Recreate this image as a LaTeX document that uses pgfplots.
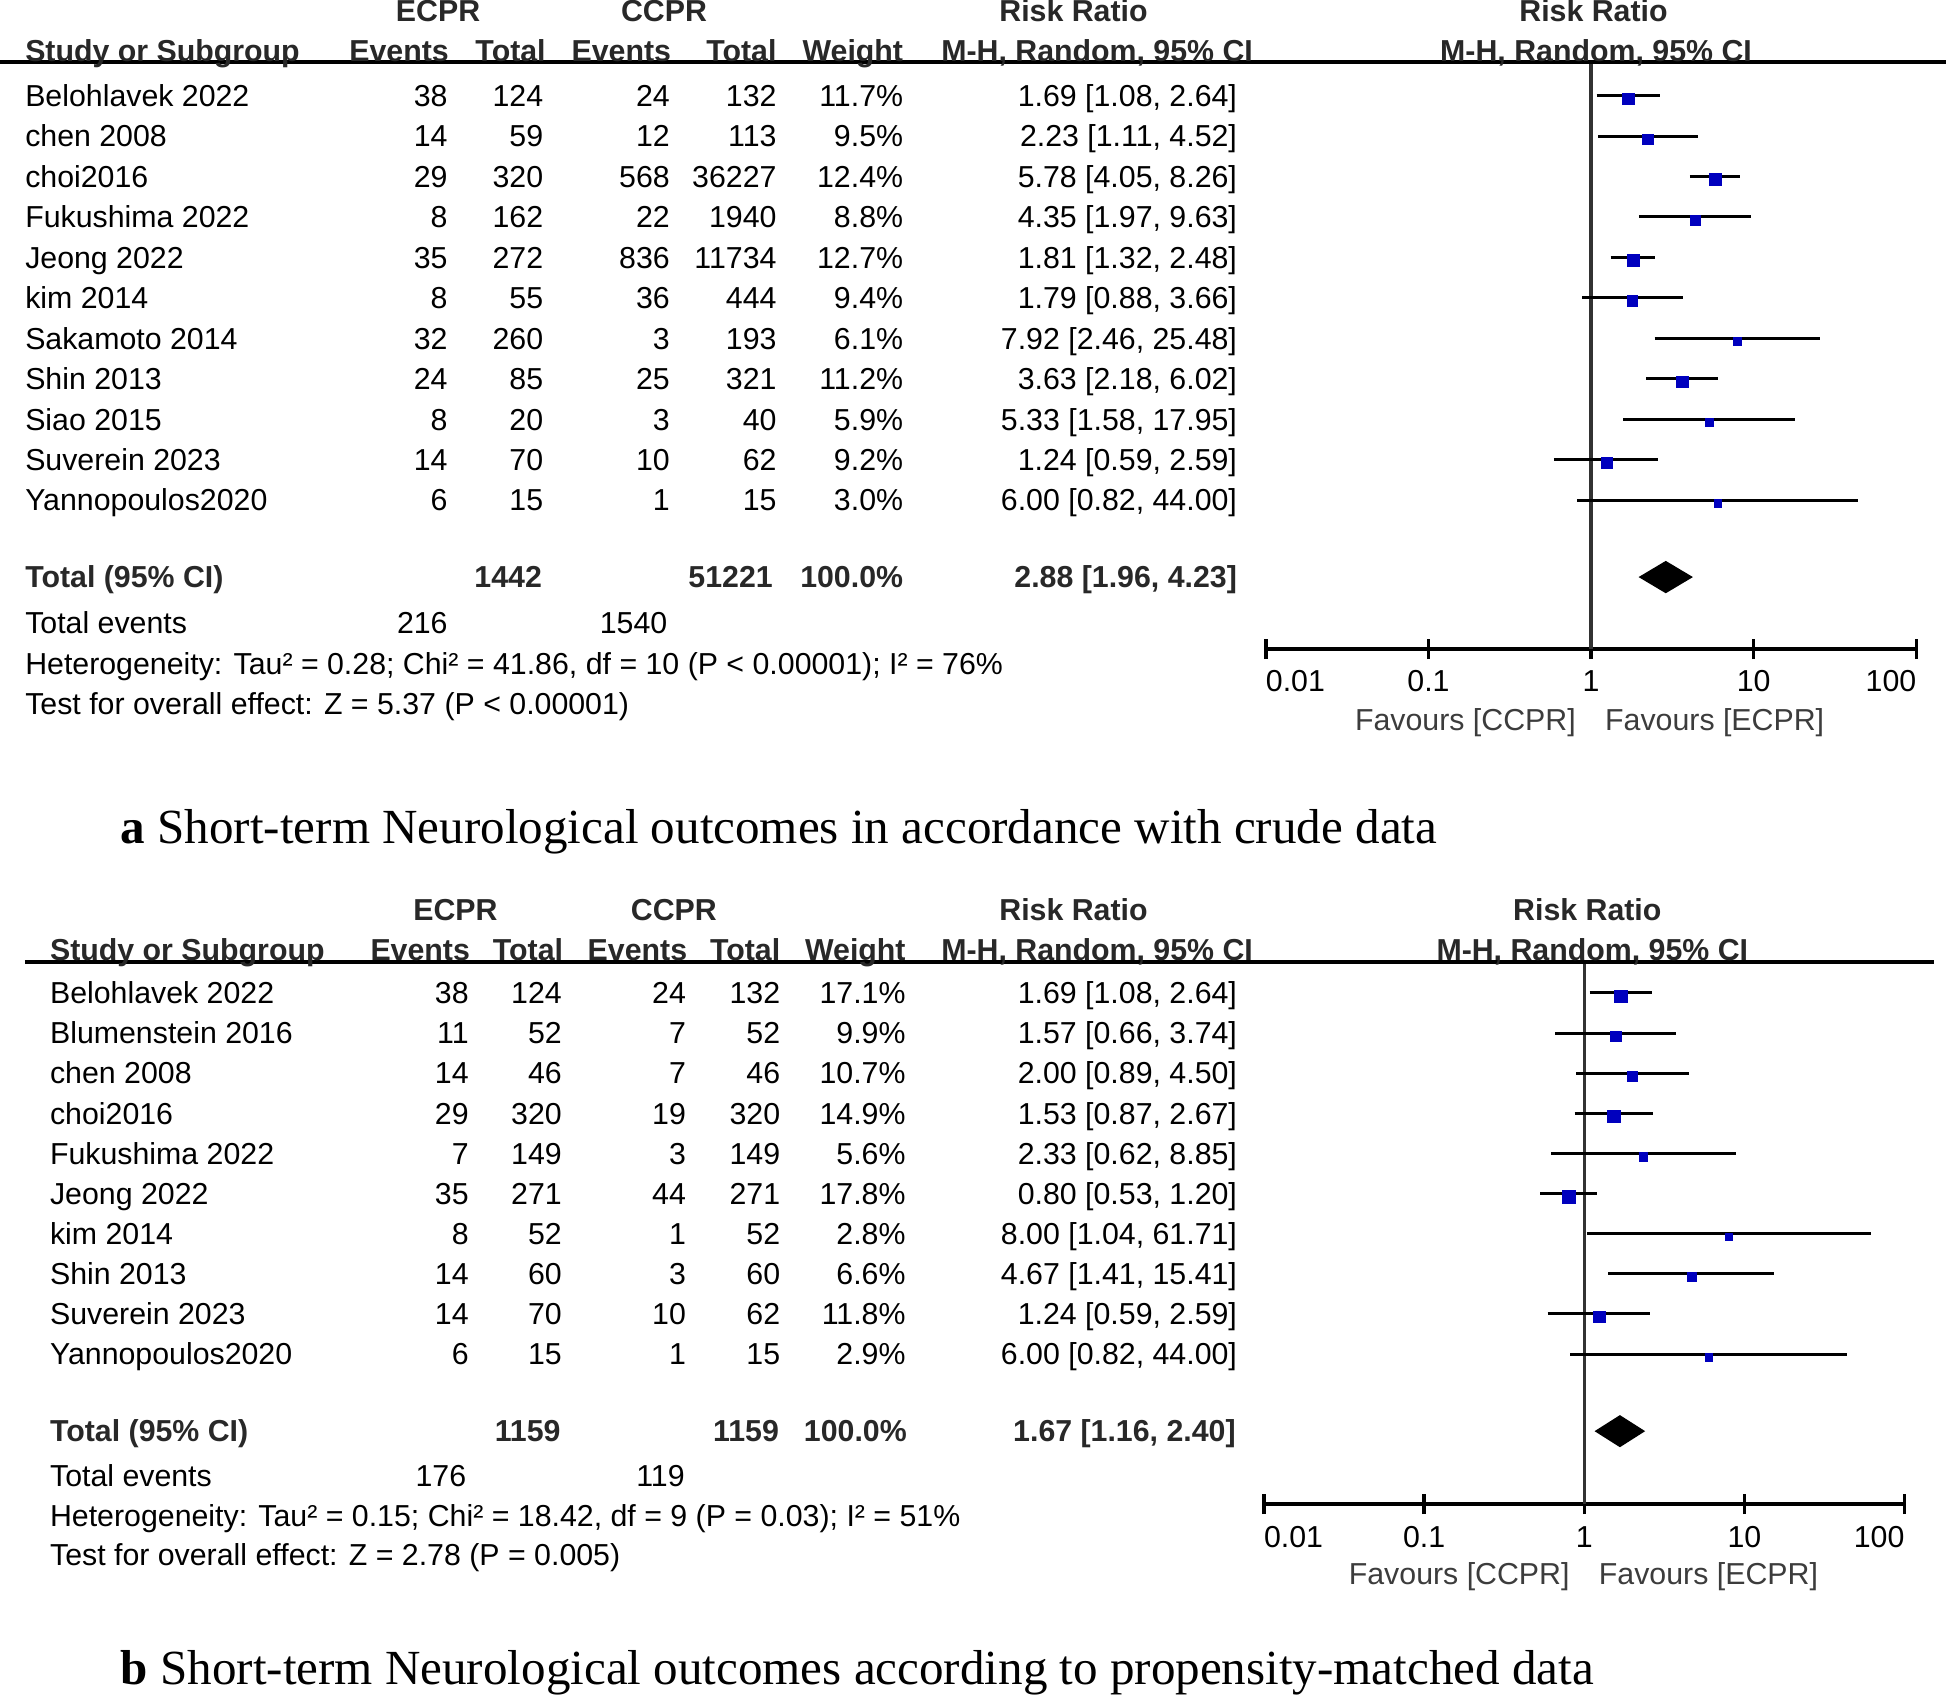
\documentclass[border=0pt]{standalone}
\usepackage{pgfplots}
\usepackage{pgfplotstable}
\pgfplotsset{compat=1.18}
\usepackage{fontspec}
\setmainfont{Liberation Sans}
\newfontfamily\capfont{Liberation Serif}

\definecolor{sqblue}{RGB}{0,0,190}
\definecolor{hdr}{RGB}{40,40,40}
\definecolor{favc}{RGB}{60,60,60}
\definecolor{vline}{RGB}{50,50,50}

\newcommand\tf{\fontsize{13.9}{16}\selectfont}
\newcommand\capf{\capfont\fontsize{22.5}{26}\selectfont}

% y = -row, risk ratio with 95% CI, s = side of the square (px)
\pgfplotstableread{
y rr lo hi s
-1 1.69 1.08 2.64 9.3
-2 2.23 1.11 4.52 8.5
-3 5.78 4.05 8.26 9.5
-4 4.35 1.97 9.63 8.3
-5 1.81 1.32 2.48 9.6
-6 1.79 0.88 3.66 8.5
-7 7.92 2.46 25.48 6.7
-8 3.63 2.18 6.02 9.1
-9 5.33 1.58 17.95 7.0
-10 1.24 0.59 2.59 8.6
-11 6.00 0.82 44.00 6.4
}\forestA

\pgfplotstableread{
y rr lo hi s
-1 1.69 1.08 2.64 9.9
-2 1.57 0.66 3.74 8.3
-3 2.00 0.89 4.50 8.0
-4 1.53 0.87 2.67 10.2
-5 2.33 0.62 8.85 7.0
-6 0.80 0.53 1.20 9.9
-7 8.00 1.04 61.71 5.6
-8 4.67 1.41 15.41 7.0
-9 1.24 0.59 2.59 9.1
-10 6.00 0.82 44.00 5.9
}\forestB

\tikzset{
  L/.style={anchor=base west, inner sep=0pt, font=\tf},
  R/.style={anchor=base east, inner sep=0pt, font=\tf},
  C/.style={anchor=base, inner sep=0pt, font=\tf},
  H/.style={font=\tf\bfseries, text=hdr},
}

\newcommand\rowA[8]{%
  \node[L] at (20,#1) {#2};
  \node[R] at (361,#1) {#3};
  \node[R] at (438,#1) {#4};
  \node[R] at (540,#1) {#5};
  \node[R] at (626,#1) {#6};
  \node[R] at (728,#1) {#7};
  \node[R] at (997,#1) {#8};}
\newcommand\rowB[8]{%
  \node[L] at (40,#1) {#2};
  \node[R] at (378,#1) {#3};
  \node[R] at (453,#1) {#4};
  \node[R] at (553,#1) {#5};
  \node[R] at (629,#1) {#6};
  \node[R] at (730,#1) {#7};
  \node[R] at (997,#1) {#8};}

% one CI segment per row of a forest table
\newcommand\ciLines[2]{%
  \pgfplotsforeachungrouped \i in {0,...,#2}{%
    \pgfplotstablegetelem{\i}{lo}\of#1\let\ciLo\pgfplotsretval
    \pgfplotstablegetelem{\i}{hi}\of#1\let\ciHi\pgfplotsretval
    \pgfplotstablegetelem{\i}{y}\of#1\let\ciY\pgfplotsretval
    \edef\ciCmd{\noexpand\addplot[black, line width=0.48mm, forget plot] coordinates {(\ciLo,\ciY) (\ciHi,\ciY)};}%
    \ciCmd}}

\pgfplotsset{
  sq/.style={scatter, only marks, mark=square*,
    scatter/use mapped color={draw=sqblue, fill=sqblue},
    visualization depends on={\thisrow{s} \as \sqside},
    scatter/@pre marker code/.append style={/tikz/mark size=\sqside*0.1mm},
    mark options={yshift=-0.48mm, line width=0.1pt}},
}

\begin{document}
\begin{tikzpicture}[x=0.2mm, y=-0.2mm]
\useasboundingbox (0,0) rectangle (1568,1367);

% ---------- panel a ----------
\begin{axis}[xmode=log, xmin=0.01, xmax=100,
  scale only axis, anchor=north west, clip=false,
  at={(204mm,-10mm)}, width=104.8mm, height=94.6mm,
  ymin=-14.68, ymax=-0.172,
  axis x line=bottom, axis y line=none,
  x axis line style={-, line width=0.6mm},
  xtick={0.01,0.1,1,10,100},
  xticklabels={\makebox[0pt][l]{0.01},0.1,1,10,\makebox[0pt][r]{100}},
  xminorticks=false,
  major tick length=3.2mm, tick align=center,
  every tick/.style={black, line width=0.55mm},
  xticklabel style={anchor=base, inner sep=0pt, font=\tf, text=black, yshift=-5.3mm}]
\addplot[vline, line width=0.52mm, forget plot] coordinates {(1,-0.172) (1,-14.68)};
\ciLines{\forestA}{10}
\addplot[sq] table[x=rr, y=y] {\forestA};
\addplot[fill=black, draw=none] coordinates {(1.96,-12.9) (2.88,-12.5) (4.23,-12.9) (2.88,-13.3)};
\end{axis}

\draw[line width=0.55mm] (0,50) -- (1568,50);
\node[C,H] at (353,17.7) {ECPR};
\node[C,H] at (535,17.7) {CCPR};
\node[C,H] at (865,17.7) {Risk Ratio};
\node[C,H] at (1284,17.7) {Risk Ratio};
\node[L,H] at (20,49.7) {Study or Subgroup};
\node[R,H] at (362,49.7) {Events};
\node[R,H] at (440,49.7) {Total};
\node[R,H] at (541,49.7) {Events};
\node[R,H] at (626,49.7) {Total};
\node[R,H] at (728,49.7) {Weight};
\node[C,H] at (884,49.7) {M-H, Random, 95\% CI};
\node[C,H] at (1286,49.7) {M-H, Random, 95\% CI};

\rowA{85.7}{Belohlavek 2022}{38}{124}{24}{132}{11.7\%}{1.69 [1.08, 2.64]}
\rowA{118.3}{chen 2008}{14}{59}{12}{113}{9.5\%}{2.23 [1.11, 4.52]}
\rowA{150.9}{choi2016}{29}{320}{568}{36227}{12.4\%}{5.78 [4.05, 8.26]}
\rowA{183.5}{Fukushima 2022}{8}{162}{22}{1940}{8.8\%}{4.35 [1.97, 9.63]}
\rowA{216.1}{Jeong 2022}{35}{272}{836}{11734}{12.7\%}{1.81 [1.32, 2.48]}
\rowA{248.7}{kim 2014}{8}{55}{36}{444}{9.4\%}{1.79 [0.88, 3.66]}
\rowA{281.3}{Sakamoto 2014}{32}{260}{3}{193}{6.1\%}{7.92 [2.46, 25.48]}
\rowA{313.9}{Shin 2013}{24}{85}{25}{321}{11.2\%}{3.63 [2.18, 6.02]}
\rowA{346.5}{Siao 2015}{8}{20}{3}{40}{5.9\%}{5.33 [1.58, 17.95]}
\rowA{379.1}{Suverein 2023}{14}{70}{10}{62}{9.2\%}{1.24 [0.59, 2.59]}
\rowA{411.7}{Yannopoulos2020}{6}{15}{1}{15}{3.0\%}{6.00 [0.82, 44.00]}

\node[L,H] at (20,473.7) {Total (95\% CI)};
\node[R,H] at (437,473.7) {1442};
\node[R,H] at (623,473.7) {51221};
\node[R,H] at (728,473.7) {100.0\%};
\node[R,H] at (997,473.7) {2.88 [1.96, 4.23]};
\node[L] at (20,510.7) {Total events};
\node[R] at (361,510.7) {216};
\node[R] at (538,510.7) {1540};
\node[L] at (20,543.7) {Heterogeneity: Tau² = 0.28; Chi² = 41.86, df = 10 (P < 0.00001); I² = 76\%};
\node[L] at (20,575.7) {Test for overall effect: Z = 5.37 (P < 0.00001)};
\node[R,text=favc] at (1270,588.7) {Favours [CCPR]};
\node[L,text=favc] at (1293,588.7) {Favours [ECPR]};

\node[anchor=base west, inner sep=0pt, font=\capf] at (97,680)
  {\textbf{a} Short-term Neurological outcomes in accordance with crude data};

% ---------- panel b ----------
\begin{axis}[xmode=log, xmin=0.01, xmax=100,
  scale only axis, anchor=north west, clip=false,
  at={(203.7mm,-155mm)}, width=103.2mm, height=87.4mm,
  ymin=-13.74, ymax=-0.227,
  axis x line=bottom, axis y line=none,
  x axis line style={-, line width=0.6mm},
  xtick={0.01,0.1,1,10,100},
  xticklabels={\makebox[0pt][l]{0.01},0.1,1,10,\makebox[0pt][r]{100}},
  xminorticks=false,
  major tick length=3.2mm, tick align=center,
  every tick/.style={black, line width=0.55mm},
  xticklabel style={anchor=base, inner sep=0pt, font=\tf, text=black, yshift=-5.35mm}]
\addplot[vline, line width=0.52mm, forget plot] coordinates {(1,-0.227) (1,-13.74)};
\ciLines{\forestB}{9}
\addplot[sq] table[x=rr, y=y] {\forestB};
\addplot[fill=black, draw=none] coordinates {(1.16,-11.92) (1.67,-11.52) (2.40,-11.92) (1.67,-12.32)};
\end{axis}

\draw[line width=0.55mm] (20,775) -- (1558,775);
\node[C,H] at (367,741.7) {ECPR};
\node[C,H] at (543,741.7) {CCPR};
\node[C,H] at (865,741.7) {Risk Ratio};
\node[C,H] at (1279,741.7) {Risk Ratio};
\node[L,H] at (40,773.7) {Study or Subgroup};
\node[R,H] at (379,773.7) {Events};
\node[R,H] at (454,773.7) {Total};
\node[R,H] at (554,773.7) {Events};
\node[R,H] at (629,773.7) {Total};
\node[R,H] at (730,773.7) {Weight};
\node[C,H] at (884,773.7) {M-H, Random, 95\% CI};
\node[C,H] at (1283,773.7) {M-H, Random, 95\% CI};

\rowB{808.7}{Belohlavek 2022}{38}{124}{24}{132}{17.1\%}{1.69 [1.08, 2.64]}
\rowB{841.0}{Blumenstein 2016}{11}{52}{7}{52}{9.9\%}{1.57 [0.66, 3.74]}
\rowB{873.4}{chen 2008}{14}{46}{7}{46}{10.7\%}{2.00 [0.89, 4.50]}
\rowB{905.7}{choi2016}{29}{320}{19}{320}{14.9\%}{1.53 [0.87, 2.67]}
\rowB{938.0}{Fukushima 2022}{7}{149}{3}{149}{5.6\%}{2.33 [0.62, 8.85]}
\rowB{970.4}{Jeong 2022}{35}{271}{44}{271}{17.8\%}{0.80 [0.53, 1.20]}
\rowB{1002.7}{kim 2014}{8}{52}{1}{52}{2.8\%}{8.00 [1.04, 61.71]}
\rowB{1035.0}{Shin 2013}{14}{60}{3}{60}{6.6\%}{4.67 [1.41, 15.41]}
\rowB{1067.4}{Suverein 2023}{14}{70}{10}{62}{11.8\%}{1.24 [0.59, 2.59]}
\rowB{1099.7}{Yannopoulos2020}{6}{15}{1}{15}{2.9\%}{6.00 [0.82, 44.00]}

\node[L,H] at (40,1161.7) {Total (95\% CI)};
\node[R,H] at (452,1161.7) {1159};
\node[R,H] at (628,1161.7) {1159};
\node[R,H] at (731,1161.7) {100.0\%};
\node[R,H] at (996,1161.7) {1.67 [1.16, 2.40]};
\node[L] at (40,1197.7) {Total events};
\node[R] at (376,1197.7) {176};
\node[R] at (552,1197.7) {119};
\node[L] at (40,1229.7) {Heterogeneity: Tau² = 0.15; Chi² = 18.42, df = 9 (P = 0.03); I² = 51\%};
\node[L] at (40,1261.7) {Test for overall effect: Z = 2.78 (P = 0.005)};
\node[R,text=favc] at (1265,1276.7) {Favours [CCPR]};
\node[L,text=favc] at (1288,1276.7) {Favours [ECPR]};

\node[anchor=base west, inner sep=0pt, font=\capf] at (97,1357)
  {\textbf{b} Short-term Neurological outcomes according to propensity-matched data};
\end{tikzpicture}
\end{document}
